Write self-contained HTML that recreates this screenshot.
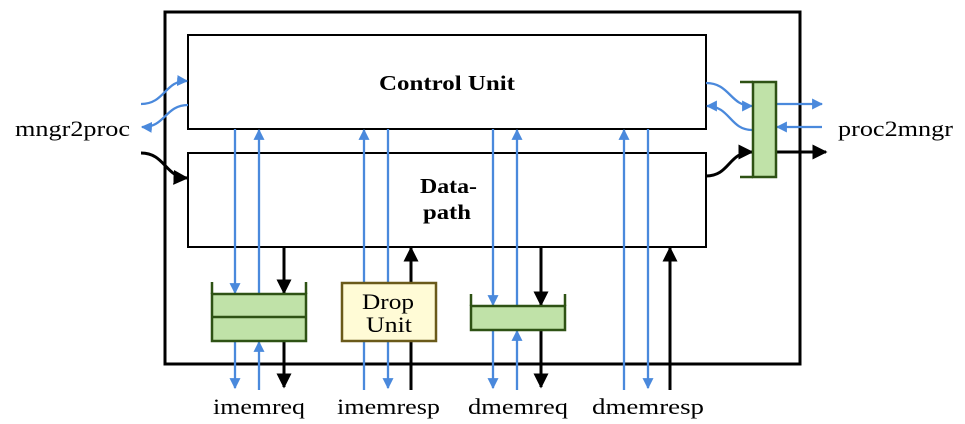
<!DOCTYPE html>
<html><head><meta charset="utf-8"><style>
html,body{margin:0;padding:0;background:#fff;width:965px;height:424px;overflow:hidden}
svg{display:block}
text{font-family:"Liberation Serif",serif}
</style></head><body>
<svg width="965" height="424" viewBox="0 0 965 424" xmlns="http://www.w3.org/2000/svg">
<defs>
<marker id="bl" viewBox="0 0 10 10" refX="9" refY="5" markerWidth="11" markerHeight="11" markerUnits="userSpaceOnUse" orient="auto"><path d="M0,0 L10,5 L0,10 z" fill="#4a89dc"/></marker>
<marker id="bk" viewBox="0 0 10 10" refX="9" refY="5" markerWidth="15" markerHeight="15" markerUnits="userSpaceOnUse" orient="auto"><path d="M0,0 L10,5 L0,10 z" fill="#000"/></marker>
</defs>
<rect x="165" y="12" width="635" height="352" fill="#fff" stroke="#000" stroke-width="3"/>
<rect x="188" y="35" width="518" height="94" fill="#fff" stroke="#000" stroke-width="2"/>
<rect x="188" y="153" width="518" height="94" fill="#fff" stroke="#000" stroke-width="2"/>
<text x="379" y="90" font-size="21" font-weight="bold" textLength="136" lengthAdjust="spacingAndGlyphs">Control Unit</text>
<text x="420" y="193" font-size="21" font-weight="bold" textLength="57" lengthAdjust="spacingAndGlyphs">Data-</text>
<text x="423" y="219" font-size="21" font-weight="bold" textLength="48" lengthAdjust="spacingAndGlyphs">path</text>

<g stroke="#4a89dc" stroke-width="2.3" fill="none">
<line x1="235" y1="129" x2="235" y2="293" marker-end="url(#bl)"/>
<line x1="235" y1="341" x2="235" y2="388" marker-end="url(#bl)"/>
<line x1="259" y1="294" x2="259" y2="130" marker-end="url(#bl)"/>
<line x1="259" y1="390" x2="259" y2="342" marker-end="url(#bl)"/>
<line x1="364" y1="390" x2="364" y2="130" marker-end="url(#bl)"/>
<line x1="388" y1="129" x2="388" y2="388" marker-end="url(#bl)"/>
<line x1="493" y1="129" x2="493" y2="305" marker-end="url(#bl)"/>
<line x1="493" y1="330" x2="493" y2="388" marker-end="url(#bl)"/>
<line x1="517" y1="306" x2="517" y2="130" marker-end="url(#bl)"/>
<line x1="517" y1="390" x2="517" y2="331" marker-end="url(#bl)"/>
<line x1="624" y1="390" x2="624" y2="130" marker-end="url(#bl)"/>
<line x1="648" y1="129" x2="648" y2="388" marker-end="url(#bl)"/>
<path d="M141,104 C165,104 165,80 187,81" marker-end="url(#bl)"/>
<path d="M188,105 C165,105 165,128 142,127" marker-end="url(#bl)"/>
<path d="M706,83 C730,83 730,106 752,106" marker-end="url(#bl)"/>
<path d="M752,130 C730,130 730,106 707,106" marker-end="url(#bl)"/>
<line x1="776" y1="104" x2="822" y2="104" marker-end="url(#bl)"/>
<line x1="822" y1="127" x2="777" y2="127" marker-end="url(#bl)"/>
</g>

<g stroke="#000" stroke-width="3" fill="none">
<line x1="284" y1="247" x2="284" y2="293" marker-end="url(#bk)"/>
<line x1="284" y1="341" x2="284" y2="387" marker-end="url(#bk)"/>
<line x1="411" y1="390" x2="411" y2="248" marker-end="url(#bk)"/>
<line x1="541" y1="247" x2="541" y2="305" marker-end="url(#bk)"/>
<line x1="541" y1="330" x2="541" y2="387" marker-end="url(#bk)"/>
<line x1="670" y1="390" x2="670" y2="248" marker-end="url(#bk)"/>
<path d="M141,153 C165,153 165,177 187,178" marker-end="url(#bk)"/>
<path d="M706,176 C730,176 728,152 752,152" marker-end="url(#bk)"/>
<line x1="776" y1="152" x2="826" y2="152" marker-end="url(#bk)"/>
</g>

<g stroke="#2e5214" stroke-width="2.5">
<rect x="212" y="294" width="94" height="47" fill="#c0e2a8"/>
<line x1="212" y1="317" x2="306" y2="317"/>
<line x1="212" y1="282" x2="212" y2="294"/>
<line x1="306" y1="282" x2="306" y2="294"/>
<rect x="471" y="306" width="94" height="24" fill="#c0e2a8"/>
<line x1="471" y1="294" x2="471" y2="306"/>
<line x1="565" y1="294" x2="565" y2="306"/>
<rect x="753" y="82" width="23" height="95" fill="#c0e2a8"/>
<line x1="740" y1="82" x2="753" y2="82"/>
<line x1="740" y1="177" x2="753" y2="177"/>
</g>
<rect x="342" y="283" width="94" height="58" fill="#fffbd6" stroke="#6a5a1a" stroke-width="2.5"/>
<text x="362" y="309" font-size="22" textLength="52" lengthAdjust="spacingAndGlyphs">Drop</text>
<text x="366" y="332" font-size="22" textLength="46" lengthAdjust="spacingAndGlyphs">Unit</text>

<g font-size="22">
<text x="213" y="414" textLength="92" lengthAdjust="spacingAndGlyphs">imemreq</text>
<text x="337" y="414" textLength="103" lengthAdjust="spacingAndGlyphs">imemresp</text>
<text x="468" y="414" textLength="100" lengthAdjust="spacingAndGlyphs">dmemreq</text>
<text x="592" y="414" textLength="112" lengthAdjust="spacingAndGlyphs">dmemresp</text>
</g>
<text x="15" y="136" font-size="22" textLength="115" lengthAdjust="spacingAndGlyphs">mngr2proc</text>
<text x="838" y="136" font-size="22" textLength="115" lengthAdjust="spacingAndGlyphs">proc2mngr</text>
</svg>
</body></html>
